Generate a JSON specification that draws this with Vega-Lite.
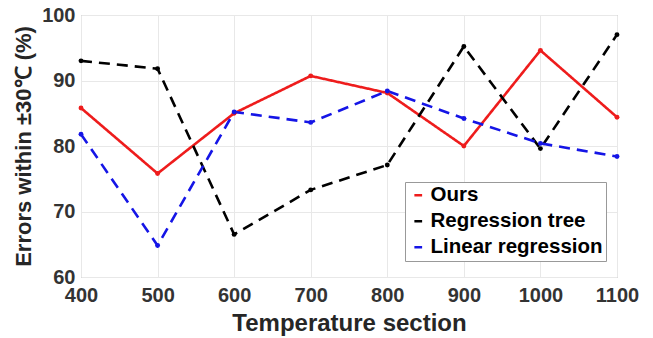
{
  "$schema": "https://vega.github.io/schema/vega-lite/v6.json",
  "width": 536,
  "height": 262,
  "autosize": "none",
  "padding": {"left": 81, "top": 15, "right": 36, "bottom": 61},
  "background": "white",
  "config": {
    "font": "Liberation Sans",
    "view": {"stroke": "#a0a0a0", "strokeWidth": 1}
  },
  "data": {
    "values": [
      {"t": 400, "v": 85.8, "s": "Ours"},
      {"t": 500, "v": 75.8, "s": "Ours"},
      {"t": 600, "v": 85.0, "s": "Ours"},
      {"t": 700, "v": 90.7, "s": "Ours"},
      {"t": 800, "v": 88.1, "s": "Ours"},
      {"t": 900, "v": 80.0, "s": "Ours"},
      {"t": 1000, "v": 94.6, "s": "Ours"},
      {"t": 1100, "v": 84.4, "s": "Ours"},
      {"t": 400, "v": 93.0, "s": "Regression tree"},
      {"t": 500, "v": 91.8, "s": "Regression tree"},
      {"t": 600, "v": 66.5, "s": "Regression tree"},
      {"t": 700, "v": 73.3, "s": "Regression tree"},
      {"t": 800, "v": 77.1, "s": "Regression tree"},
      {"t": 900, "v": 95.2, "s": "Regression tree"},
      {"t": 1000, "v": 79.6, "s": "Regression tree"},
      {"t": 1100, "v": 97.0, "s": "Regression tree"},
      {"t": 400, "v": 81.8, "s": "Linear regression"},
      {"t": 500, "v": 64.8, "s": "Linear regression"},
      {"t": 600, "v": 85.2, "s": "Linear regression"},
      {"t": 700, "v": 83.6, "s": "Linear regression"},
      {"t": 800, "v": 88.4, "s": "Linear regression"},
      {"t": 900, "v": 84.2, "s": "Linear regression"},
      {"t": 1000, "v": 80.4, "s": "Linear regression"},
      {"t": 1100, "v": 78.4, "s": "Linear regression"}
    ]
  },
  "mark": {"type": "line", "strokeWidth": 2.6, "point": {"size": 24, "filled": true}},
  "encoding": {
    "x": {
      "field": "t", "type": "quantitative",
      "scale": {"domain": [400, 1100], "nice": false},
      "axis": {
        "values": [400, 500, 600, 700, 800, 900, 1000, 1100],
        "format": "d",
        "title": "Temperature section",
        "titleFontSize": 24, "titleFontWeight": "bold", "titleColor": "#262626", "titlePadding": 6,
        "labelFontSize": 20, "labelFontWeight": "bold", "labelColor": "#333333", "labelPadding": 8,
        "grid": true, "gridColor": "#e8e8e8",
        "domain": false, "ticks": false, "labelFlush": false
      }
    },
    "y": {
      "field": "v", "type": "quantitative",
      "scale": {"domain": [60, 100], "nice": false},
      "axis": {
        "values": [60, 70, 80, 90, 100],
        "title": "Errors within ±30℃ (%)",
        "titleFontSize": 22, "titleFontWeight": "bold", "titleColor": "#262626", "titlePadding": 6,
        "labelFontSize": 20, "labelFontWeight": "bold", "labelColor": "#333333", "labelPadding": 6,
        "grid": true, "gridColor": "#e8e8e8",
        "domain": false, "ticks": false
      }
    },
    "color": {
      "field": "s", "type": "nominal",
      "sort": ["Ours", "Regression tree", "Linear regression"],
      "scale": {"domain": ["Ours", "Regression tree", "Linear regression"], "range": ["#ee1c1c", "#000000", "#1515e6"]},
      "legend": {
        "title": null,
        "orient": "none", "legendX": 324, "legendY": 167,
        "fillColor": "white", "strokeColor": "#999999", "padding": 3,
        "labelFontSize": 20.5, "labelFontWeight": "bold", "labelColor": "#000000", "labelLimit": 400,
        "symbolType": "stroke", "symbolSize": 60, "symbolStrokeWidth": 2.5,
        "rowPadding": 5, "labelOffset": 2
      }
    },
    "strokeDash": {
      "field": "s", "type": "nominal",
      "scale": {"domain": ["Ours", "Regression tree", "Linear regression"], "range": [[1, 0], [11, 7], [11, 7]]},
      "legend": null
    }
  }
}
